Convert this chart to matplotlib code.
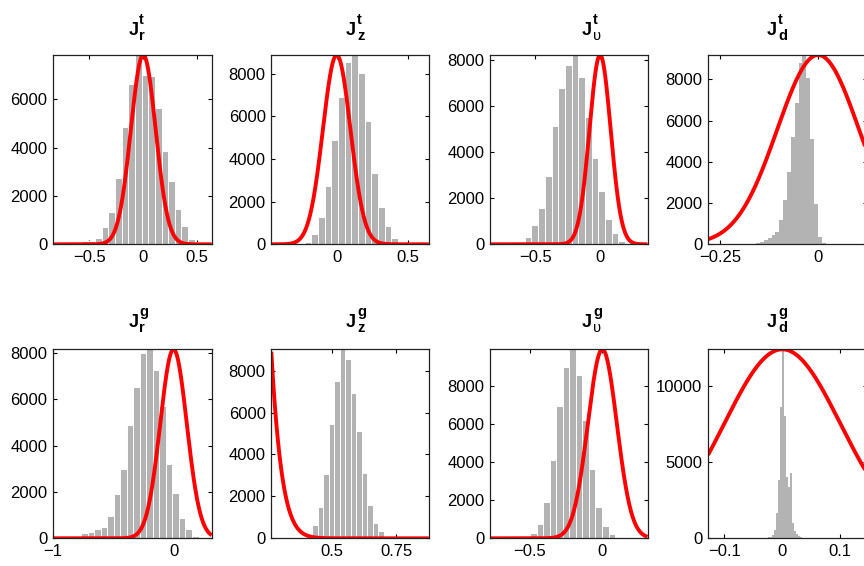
import numpy as np
import matplotlib
matplotlib.use("Agg")
import matplotlib.pyplot as plt

plt.rcParams['font.family'] = ['Liberation Sans', 'DejaVu Sans']
plt.rcParams['axes.unicode_minus'] = True

# ---------------- data ----------------
title_main = ['J'] * 8
title_sup = ['t', 't', 't', 't', 'g', 'g', 'g', 'g']
title_sub = ['r', 'z', 'υ', 'd', 'r', 'z', 'υ', 'd']

# histogram bins: first bin centre, bin width, counts
jrt_start, jrt_width = -0.54, 0.0617
jrt_counts = [124, 150, 260, 717, 1340, 2745, 4830, 6640, 7826, 7000, 6960, 5630, 3840, 2620, 1460, 750, 215, 90]
jzt_start, jzt_width = -0.202, 0.047
jzt_counts = [110, 470, 1280, 2730, 4890, 6906, 8547, 8875, 8016, 5781, 3328, 1734, 860, 297, 94]
jut_start, jut_width = -0.609, 0.0518
jut_counts = [87, 318, 838, 1574, 2975, 5126, 6773, 7769, 8202, 7264, 5531, 3740, 2310, 1097, 505, 159, 58]
jdt_start, jdt_width = -0.1526, 0.0098
jdt_counts = [50, 100, 190, 290, 440, 600, 1180, 2150, 3500, 5220, 6830, 8770, 9180, 8050, 5090, 1950, 370, 80]
jrg_start, jrg_width = -0.738, 0.054
jrg_counts = [215, 272, 386, 472, 944, 1903, 3005, 4894, 6525, 8014, 8157, 7256, 5710, 3220, 1975, 859, 386, 100]
jzg_start, jzg_width = 0.3698, 0.0215
jzg_counts = [20, 50, 190, 650, 1510, 3070, 5450, 7520, 9018, 8557, 6920, 5137, 3133, 1590, 747, 366, 111, 48]
jug_start, jug_width = -0.475, 0.045
jug_counts = [263, 737, 1912, 4123, 6947, 9000, 9947, 8579, 6210, 3649, 1667, 649, 210, 70]
jdg_start, jdg_width = -0.0293, 0.00345
jdg_counts = [30, 50, 80, 110, 220, 550, 1640, 3830, 8640, 12407, 8000, 4000, 3400, 4300, 1000, 500, 250, 120, 60, 30]

# prior curves (gaussian): mean, sigma, peak height
prior_mu = [0.0, 0.0, 0.0, 0.0, 0.0, 0.0, 0.0, 0.0]
prior_sigma = [0.115, 0.097, 0.082, 0.104, 0.11, 0.105, 0.1, 0.1]
prior_peak = [7826, 8875, 8202, 9180, 8157, 205000, 9947, 12407]

# axis ranges and ticks
xlims = [(-0.84, 0.635), (-0.46, 0.648), (-0.852, 0.367), (-0.28, 0.123),
         (-1.0001, 0.316), (0.263, 0.878), (-0.774, 0.311), (-0.128, 0.145)]
ylims = [7826, 8875, 8202, 9180, 8157, 9018, 9947, 12407]
xticks = [[-0.5, 0, 0.5], [0, 0.5], [-0.5, 0], [-0.25, 0],
          [-1, 0], [0.5, 0.75], [-0.5, 0], [-0.1, 0, 0.1]]
xticklabels = [['−0.5', '0', '0.5'], ['0', '0.5'], ['−0.5', '0'], ['−0.25', '0'],
               ['−1', '0'], ['0.5', '0.75'], ['−0.5', '0'], ['−0.1', '0', '0.1']]
yticks = [[0, 2000, 4000, 6000], [0, 2000, 4000, 6000, 8000], [0, 2000, 4000, 6000, 8000],
          [0, 2000, 4000, 6000, 8000], [0, 2000, 4000, 6000, 8000], [0, 2000, 4000, 6000, 8000],
          [0, 2000, 4000, 6000, 8000], [0, 5000, 10000]]

hists = [(jrt_start, jrt_width, jrt_counts), (jzt_start, jzt_width, jzt_counts),
         (jut_start, jut_width, jut_counts), (jdt_start, jdt_width, jdt_counts),
         (jrg_start, jrg_width, jrg_counts), (jzg_start, jzg_width, jzg_counts),
         (jug_start, jug_width, jug_counts), (jdg_start, jdg_width, jdg_counts)]

# ---------------- layout (pixels) ----------------
W, H = 864, 566
col_left = [52.7, 271.3, 490.0, 708.0]
col_width = [159.0, 157.5, 157.5, 158.5]
row_top = [55.0, 349.3]
row_height = [189.3, 189.0]
title_left = [128.3, 346.0, 582.0, 767.0]
title_base = [35.0, 327.3]
bar_edge_lw = [0.7, 0.7, 0.7, 0.0, 0.7, 0.7, 0.7, 0.0]

fig = plt.figure(figsize=(W / 100, H / 100), dpi=100)

for i in range(8):
    r, c = divmod(i, 4)
    ax = fig.add_axes([col_left[c] / W, 1 - (row_top[r] + row_height[r]) / H,
                       col_width[c] / W, row_height[r] / H])
    start, width, counts = hists[i]
    centers = start + width * np.arange(len(counts))
    ax.bar(centers, counts, width=width, color='#b3b3b3',
           edgecolor='white' if bar_edge_lw[i] > 0 else 'none',
           linewidth=bar_edge_lw[i], zorder=2)
    xs = np.linspace(xlims[i][0], xlims[i][1], 800)
    ys = prior_peak[i] * np.exp(-(xs - prior_mu[i]) ** 2 / (2 * prior_sigma[i] ** 2))
    ax.plot(xs, ys, color='#ff0000', lw=2.8, zorder=3, solid_capstyle='butt')
    ax.set_xticks(xticks[i])
    ax.set_xticklabels(xticklabels[i])
    ax.set_yticks(yticks[i])
    ax.set_yticklabels([str(v) for v in yticks[i]])
    ax.set_xlim(*xlims[i])
    ax.set_ylim(0, ylims[i])
    ax.tick_params(direction='in', top=True, right=True, length=3, width=0.8,
                   labelsize=12, colors='black')
    ax.tick_params(axis='y', pad=4)
    ax.tick_params(axis='x', pad=4)
    for s in ax.spines.values():
        s.set_linewidth(0.9)
        s.set_color('#222222')
        s.set_zorder(5)
    # title: J with stacked superscript / subscript
    xj = title_left[c]
    yb = title_base[r]
    fig.text(xj / W, 1 - yb / H, title_main[i], fontsize=13, fontweight='bold',
             ha='left', va='baseline')
    fig.text((xj + 11) / W, 1 - (yb - 11.5) / H, title_sup[i], fontsize=10.5,
             fontweight='bold', ha='left', va='baseline')
    sub_w = 'normal' if title_sub[i] == 'υ' else 'bold'
    fig.text((xj + 11) / W, 1 - (yb + 5) / H, title_sub[i], fontsize=10.5,
             fontweight=sub_w, ha='left', va='baseline')

fig.savefig('out.png', dpi=100)
